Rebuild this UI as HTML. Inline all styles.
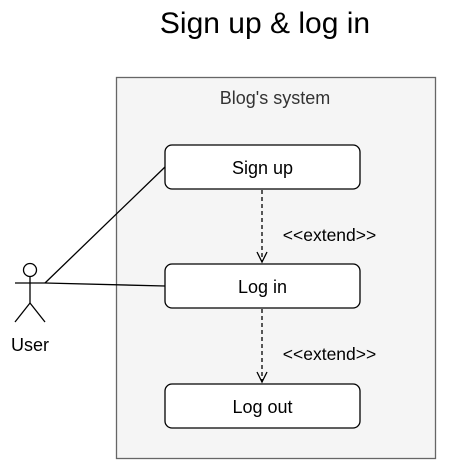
<!DOCTYPE html>
<html><head><meta charset="utf-8"><style>
html,body{margin:0;padding:0;background:#fff;}
svg{display:block;}
text{font-family:"Liberation Sans",Arial,sans-serif;}
</style></head><body>
<svg width="456" height="471" viewBox="0 0 456 471" xmlns="http://www.w3.org/2000/svg">
<text x="265" y="33" font-size="30" text-anchor="middle" fill="#000">Sign up &amp; log in</text>
<rect x="116.5" y="77.5" width="319" height="381" fill="#f5f5f5" stroke="#666" stroke-width="1.3"/>
<text x="275" y="104" font-size="18" text-anchor="middle" fill="#333">Blog's system</text>
<rect x="165" y="145" width="195" height="44" rx="7" fill="#fff" stroke="#000" stroke-width="1.3"/>
<text x="262.5" y="174" font-size="18" text-anchor="middle">Sign up</text>
<rect x="165" y="264" width="195" height="44" rx="7" fill="#fff" stroke="#000" stroke-width="1.3"/>
<text x="262.5" y="293" font-size="18" text-anchor="middle">Log in</text>
<rect x="165" y="384" width="195" height="44" rx="7" fill="#fff" stroke="#000" stroke-width="1.3"/>
<text x="262.5" y="413" font-size="18" text-anchor="middle">Log out</text>
<g stroke="#000" stroke-width="1.3" fill="none">
<line x1="262" y1="190" x2="262" y2="262" stroke-dasharray="4,3"/>
<polyline points="257,252 262,262 267,252"/>
<line x1="262" y1="309" x2="262" y2="382" stroke-dasharray="4,3"/>
<polyline points="257,372 262,382 267,372"/>
<line x1="45" y1="283" x2="165" y2="167"/>
<line x1="45" y1="283" x2="165" y2="286"/>
<circle cx="30" cy="270" r="6.5"/>
<line x1="30" y1="276.5" x2="30" y2="303"/>
<line x1="15" y1="283" x2="45" y2="283"/>
<line x1="30" y1="303" x2="15" y2="322"/>
<line x1="30" y1="303" x2="45" y2="322"/>
</g>
<text x="329.5" y="241" font-size="17.5" text-anchor="middle">&lt;&lt;extend&gt;&gt;</text>
<text x="329.5" y="360" font-size="17.5" text-anchor="middle">&lt;&lt;extend&gt;&gt;</text>
<text x="30" y="351" font-size="18" text-anchor="middle">User</text>
</svg>
</body></html>
